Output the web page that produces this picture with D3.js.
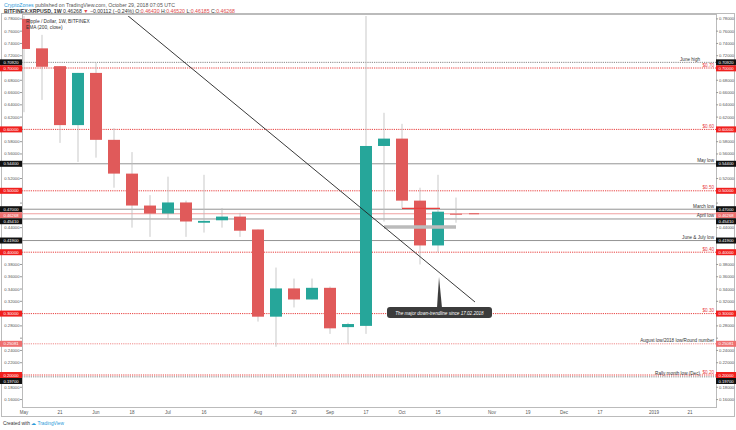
<!DOCTYPE html>
<html><head><meta charset="utf-8">
<script src="https://cdn.jsdelivr.net/npm/d3@7"></script>
<style>body{margin:0;background:#fff;font-family:"Liberation Sans",Arial,sans-serif}</style>
</head><body><svg id="c" width="736" height="430"></svg>
<script>
// weekly XRPUSD candles: [open, high, low, close]
const opens  = [0.780,0.732,0.703,0.607,0.692,0.583,0.528,0.476,0.463,0.481,0.448,0.452,0.458,0.437,0.295,0.341,0.323,0.342,0.278,0.280,0.573,0.585,0.484,0.411,0.4627];
const highs  = [0.800,0.754,0.703,0.692,0.708,0.602,0.563,0.493,0.523,0.484,0.526,0.472,0.464,0.437,0.375,0.357,0.357,0.344,0.285,0.790,0.627,0.609,0.505,0.526,0.489];
const lows   = [0.628,0.648,0.578,0.547,0.554,0.505,0.440,0.425,0.455,0.425,0.432,0.440,0.425,0.287,0.246,0.310,0.323,0.267,0.251,0.267,0.450,0.472,0.380,0.400,0.448];
const closes = [0.731,0.702,0.607,0.692,0.583,0.528,0.476,0.463,0.481,0.450,0.451,0.458,0.435,0.295,0.341,0.323,0.342,0.276,0.283,0.573,0.585,0.484,0.411,0.466,0.4626];

const tickLabels = ["May","21","Jun","18","Jul","16","Aug","20","Sep","17","Oct","15","Nov","19","Dec","17","2019","21"];
const tickBars   = [0,2,4,6,8,10,13,15,17,19,21,23,26,28,30,32,35,37];

// horizontal levels
const levelPrices = [0.7092,0.70,0.60,0.544,0.50,0.47,0.4626,0.4541,0.419,0.40,0.30,0.2508,0.20,0.197];
const levelNames  = ["June high","$0.70","$0.60","May low","$0.50","March low","","April low","June & July low","$0.40","$0.30","August low/2018 low/Round number","$0.20","Rally month low (Dec)"];
const levelKinds  = ["gray","red","red","black","red","black","cur","black","black","red","red","pink","red","gray"];
const levelTexts  = ["0.70920","0.70000","0.60000","0.54400","0.50000","0.47000","0.46268","0.45410","0.41900","0.40000","0.30000","0.25081","0.20000","0.19700"];

const svg = d3.select("#c");
const L = 22, R = 716, T = 16, B = 407;
const y = d3.scaleLinear().domain([0.20, 0.70]).range([375, 68]);
const x = d3.scaleLinear().domain([0, 1]).range([24, 42]);

svg.append("clipPath").attr("id","clip").append("rect").attr("x",L).attr("y",T).attr("width",R-L).attr("height",B-T);

// frames
svg.append("rect").attr("x",1.5).attr("y",13.5).attr("width",733).attr("height",403).attr("fill","none").attr("stroke","#bbb");
svg.append("rect").attr("x",L+.5).attr("y",T-2+.5).attr("width",R-L).attr("height",B-T+2).attr("fill","none").attr("stroke","#bbb");

// header
svg.append("text").attr("x",4).attr("y",7).attr("font-size",5.2).attr("fill","#555")
  .html('<tspan fill="#2a9ad8">CryptoZones</tspan> published on TradingView.com, October 29, 2018 07:05 UTC');
svg.append("text").attr("x",4).attr("y",13).attr("font-size",5.2).attr("fill","#333")
  .html('<tspan font-weight="bold">BITFINEX:XRPUSD, 1W</tspan> 0.46268 <tspan fill="#e04848">▼</tspan> −0.00112 (−0.24%) O:<tspan fill="#e04848">0.46430</tspan> H:<tspan fill="#e04848">0.46520</tspan> L:<tspan fill="#e04848">0.46185</tspan> C:<tspan fill="#e04848">0.46268</tspan>');

// price ticks both sides (skip those hidden under level boxes)
const ticks = d3.range(0.16, 0.781, 0.02).filter(t => y(t) > T + 2 && y(t) < B - 2);
const g = svg.append("g").attr("font-size",4.2).attr("fill","#555");
ticks.forEach(t => {
  g.append("line").attr("x1",R).attr("x2",R+2).attr("y1",y(t)).attr("y2",y(t)).attr("stroke","#999");
  g.append("line").attr("x1",L-2).attr("x2",L).attr("y1",y(t)).attr("y2",y(t)).attr("stroke","#999");
  if (levelPrices.some(p => Math.abs(y(p) - y(t)) < 6.5)) return;
  g.append("text").attr("x",L-2.5).attr("y",y(t)+1.5).attr("text-anchor","end").text(t.toFixed(5));
  g.append("text").attr("x",R+3).attr("y",y(t)+1.5).text(t.toFixed(5));
});
// time axis
tickBars.forEach((b,i) => {
  svg.append("text").attr("x",x(b)).attr("y",414).attr("text-anchor","middle")
    .attr("font-size",4.5).attr("fill","#555").text(tickLabels[i]);
});

const plot = svg.append("g").attr("clip-path","url(#clip)");
const col = {red:"#e8403f",gray:"#888",black:"#777",pink:"#ef8a8a",cur:"#f0a0a0"};
levelPrices.forEach((p,i) => {
  const k = levelKinds[i];
  plot.append("line").attr("x1",L).attr("x2",R).attr("y1",y(p)).attr("y2",y(p))
    .attr("stroke",col[k]).attr("stroke-width", k==="black"?0.8:1)
    .attr("stroke-dasharray", (k==="black"||k==="cur")?null:"1.2,1");
  if (levelNames[i]) {
    // names of gray levels sitting right under a red one move left a bit
    const crowded = k==="gray" && levelPrices.some((q,j) => j!==i && levelKinds[j]==="red" && Math.abs(y(q)-y(p)) < 7);
    svg.append("text").attr("x",R-2-(crowded?14:0)).attr("y",y(p)-1.5).attr("text-anchor","end")
      .attr("font-size",4.6).attr("fill",k==="red"?"#e8403f":"#333").text(levelNames[i]);
  }
});
// price boxes drawn over ticks, staggered so close ones don't collide
const placed = [];
levelPrices.map((p,i) => i).sort((a,b) => y(levelPrices[a]) - y(levelPrices[b])).forEach(i => {
  let yy = y(levelPrices[i]);
  if (placed.length && yy - placed[placed.length-1] < 6) yy = placed[placed.length-1] + 6;
  placed.push(yy);
  const k = levelKinds[i];
  const fill = k==="red"?"#f0201e":(k==="pink"||k==="cur")?"#ee6f6f":"#111";
  [[0,L],[R,20]].forEach(([x0,w]) => {
    svg.append("rect").attr("x",x0).attr("y",yy-3).attr("width",w).attr("height",6).attr("fill",fill);
    svg.append("text").attr("x",x0+w/2).attr("y",yy+1.6).attr("text-anchor","middle")
      .attr("font-size",4.2).attr("fill","#fff").text(levelTexts[i]);
  });
});

// candles
const up = "#26a69a", dn = "#e05a5a";
opens.forEach((o,i) => {
  const c = closes[i], cl = c >= o ? up : dn;
  plot.append("line").attr("x1",x(i)).attr("x2",x(i)).attr("y1",y(highs[i])).attr("y2",y(lows[i]))
    .attr("stroke","#bbb").attr("stroke-width",0.8);
  const top = y(Math.max(o,c)), h = Math.max(1, Math.abs(y(o)-y(c)));
  plot.append("rect").attr("x",x(i)-6).attr("y",top).attr("width",12).attr("height",h).attr("fill",cl);
});
// extra marks: gray zone bar, red level segment, projected dash
plot.append("line").attr("x1",x(20)).attr("x2",x(24)).attr("y1",y(0.441)).attr("y2",y(0.441)).attr("stroke","#bbb").attr("stroke-width",3.5);
plot.append("line").attr("x1",x(21)).attr("x2",x(23)+2).attr("y1",y(0.4715)).attr("y2",y(0.4715)).attr("stroke","#e8403f").attr("stroke-width",1.3);
plot.append("line").attr("x1",x(25)-5).attr("x2",x(25)+5).attr("y1",y(0.4626)).attr("y2",y(0.4626)).attr("stroke","#e05a5a").attr("stroke-width",1);

// trendline
plot.append("line").attr("x1",127).attr("y1",15).attr("x2",475).attr("y2",302).attr("stroke","#222").attr("stroke-width",0.9);

// callout
svg.append("path").attr("d","M437,308 L439,277 L442,308 Z").attr("fill","#3c3c3c");
svg.append("rect").attr("x",387).attr("y",307).attr("width",105).attr("height",11).attr("rx",3).attr("fill","#3c3c3c");
svg.append("text").attr("x",439.5).attr("y",314.5).attr("text-anchor","middle").attr("font-size",4.6)
  .attr("font-style","italic").attr("fill","#fff").text("The major down-trendline since 17.02.2018");

// inner legend
svg.append("text").attr("x",26).attr("y",23).attr("font-size",4.8).attr("fill","#333").text("Ripple / Dollar, 1W, BITFINEX");
svg.append("text").attr("x",26).attr("y",29).attr("font-size",4.8).attr("fill","#333").text("EMA (200, close)");

// footer
svg.append("text").attr("x",3).attr("y",425).attr("font-size",4.8).attr("fill","#333")
  .html('Created with <tspan fill="#2a9ad8">☁ TradingView</tspan>');
</script></body></html>
